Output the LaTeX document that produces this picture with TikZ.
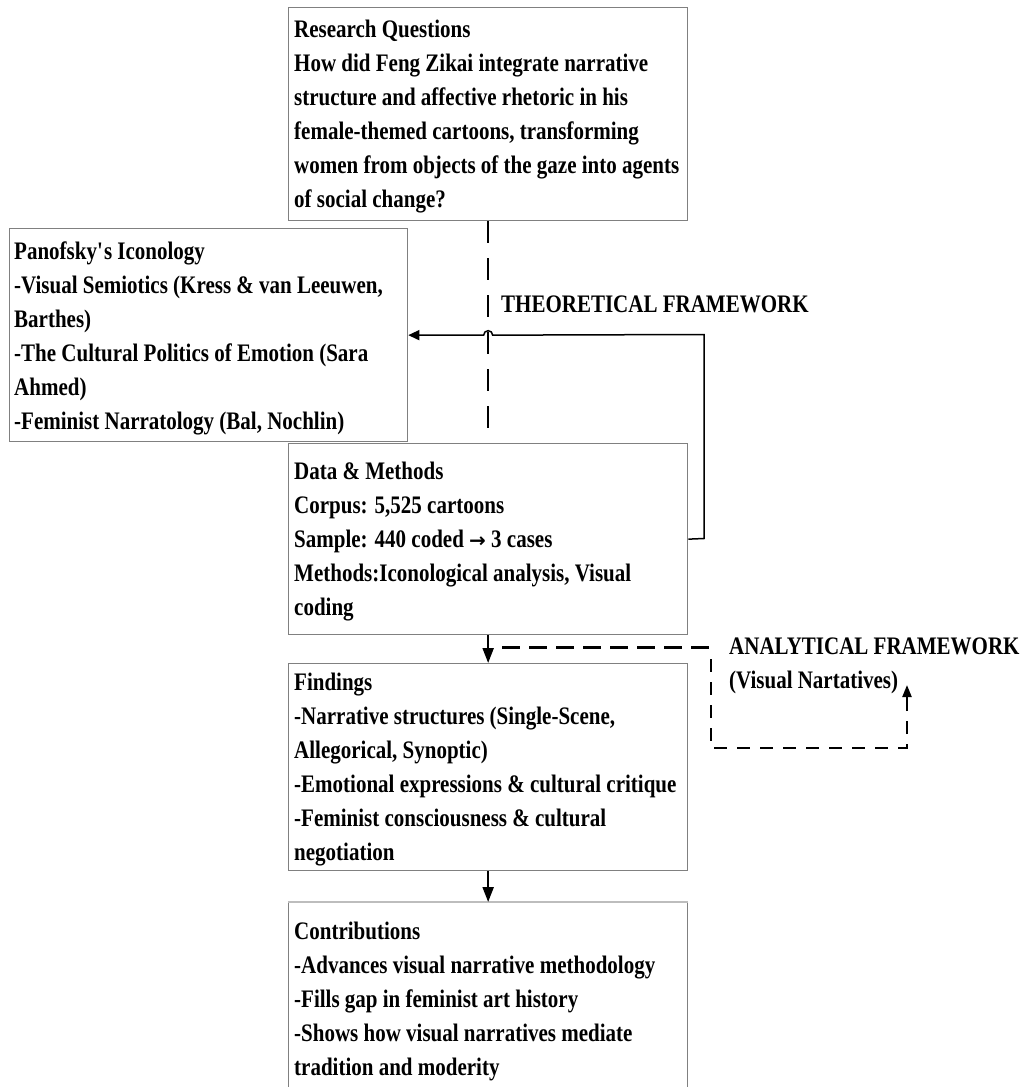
\documentclass[tikz,border=0pt]{standalone}
\usepackage{fontspec}
\setmainfont{Liberation Serif}
\newfontfamily\reffont[FakeStretch=0.8333]{Liberation Serif}
\newfontfamily\arrowfont{DejaVu Sans}
\usetikzlibrary{arrows.meta,calc}
\definecolor{boxgray}{HTML}{808080}
\definecolor{toplight}{HTML}{BDBDBD}
\newcommand\sq{\XeTeXglyph\XeTeXcharglyph"27\relax}
\newcommand\fl{\rule{0pt}{20pt}}
\newcommand\rarr{{\arrowfont\bfseries\fontsize{20}{34}\selectfont →}}
\tikzset{
  box/.style={draw=boxgray, line width=1.3pt, minimum width=399pt, anchor=north west, inner sep=0pt},
  txt/.style={anchor=north west, align=left, inner sep=0pt, font=\reffont\bfseries\fontsize{25.2}{34}\selectfont},
  conn/.style={line width=2.2pt, -{Triangle[length=15pt,width=11pt]}},
  thinconn/.style={line width=1.5pt},
  longdash/.style={line width=2pt, dash pattern=on 22pt off 15pt},
  thickdash/.style={line width=3pt, dash pattern=on 18pt off 9pt},
  loopdash/.style={line width=2.8pt, dash pattern=on 13pt off 10pt},
}
\begin{document}
\begin{tikzpicture}[x=1pt,y=-1pt]
\useasboundingbox (0,0) rectangle (1021,1087);

% boxes
\node[box, minimum height=213pt] (rq) at (288,7) {};
\node[box, minimum height=213pt, minimum width=398pt] (pan) at (9,228) {};
\node[box, minimum height=191pt] (data) at (288,443) {};
\node[box, minimum height=207pt] (find) at (288,663) {};
\node[box, minimum height=200pt] (contrib) at (288,902) {};
\draw[toplight, line width=2pt] (contrib.north west) -- (contrib.north east);

% box texts
\node[txt] (rqt) at (294,17) {\fl Research Questions\\How did Feng Zikai integrate narrative\\structure and affective rhetoric in his\\female-themed cartoons, transforming\\women from objects of the gaze into agents\\of social change?};
\node[txt] (pant) at (14,239) {\fl Panofsky\sq s Iconology\\-Visual Semiotics (Kress \& van Leeuwen,\\Barthes)\\-The Cultural Politics of Emotion (Sara\\Ahmed)\\-Feminist Narratology (Bal, Nochlin)};
\node[txt] (datat) at (294,459) {\fl Data \& Methods\\Corpus: 5,525 cartoons\\Sample: 440 coded \rarr\ 3 cases\\Methods:Iconological analysis, Visual\\coding};
\node[txt] (findt) at (294,670) {\fl Findings\\-Narrative structures (Single-Scene,\\Allegorical, Synoptic)\\-Emotional expressions \& cultural critique\\-Feminist consciousness \& cultural\\negotiation};
\node[txt] (contribt) at (294,919) {\fl Contributions\\-Advances visual narrative methodology\\-Fills gap in feminist art history\\-Shows how visual narratives mediate\\tradition and moderity};

% labels
\node[txt] (tf) at (501,292) {\fl THEORETICAL FRAMEWORK};
\node[txt] (af) at (729,634) {\fl ANALYTICAL FRAMEWORK\\(Visual Nartatives)};

% dashed spine from research questions to data
\draw[longdash] (rq.south) -- (data.north);

% theoretical feedback line with hop over the spine
\draw[thinconn, -{Triangle[length=11pt,width=10pt]}]
  (data.east) -- (704,538.5) -- (704,334.5)
  -- ($(rq.south |- pan.east)+(4.5,0)$)
  arc[start angle=0, end angle=180, radius=4.5pt]
  -- (pan.east);

% main flow arrows
\draw[conn] (data.south) -- (find.north);
\draw[conn] (find.south) -- (contrib.north);

% analytical framework connector
\coordinate (ajoin) at (502,647);
\draw[thickdash] (ajoin) -- (710,647);

% analytical loop
\coordinate (loopstart) at (711,659);
\coordinate (loopend) at (907,685);
\draw[loopdash] (loopstart) -- (711,748) -- (907,748) -- (907,702);
\draw[line width=2.2pt, -{Triangle[length=12pt,width=9pt]}] (907,702) -- (loopend);
\end{tikzpicture}
\end{document}
